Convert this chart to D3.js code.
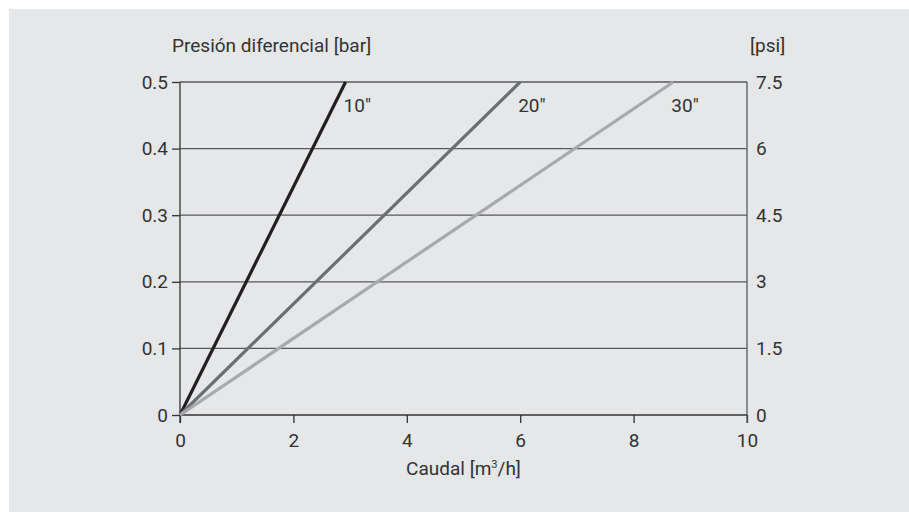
<!DOCTYPE html>
<html><head><meta charset="utf-8">
<script src="https://cdn.jsdelivr.net/npm/d3@7"></script>
<style>body{margin:0;background:#fff}svg{display:block}text{font-family:Roboto,sans-serif;fill:#333}</style>
</head><body><svg id="c" width="909" height="512"></svg>
<script>
const xTicks = [0, 2, 4, 6, 8, 10];
const barTicks = [0, 0.1, 0.2, 0.3, 0.4, 0.5];
const psiTicks = ["0", "1.5", "3", "4.5", "6", "7.5"];
const seriesNames = ['10"', '20"', '30"'];
const seriesFlowAtMax = [2.92, 6.0, 8.7]; // flow [m3/h] at 0.5 bar
const seriesColors = ["#231f20", "#6d6e71", "#a7a9ac"];

const FS = 19;
const FF = "Roboto,sans-serif";
const svg = d3.select("#c");
svg.append("rect").attr("x", 9).attr("y", 9).attr("width", 900).attr("height", 503).attr("fill", "#e6e7e8");

const x = d3.scaleLinear().domain([0, 10]).range([180, 747]);
const y = d3.scaleLinear().domain([0, 0.5]).range([415, 82]);

// gridlines
svg.append("g").selectAll("line").data(barTicks.slice(1)).join("line")
  .attr("x1", x(0)).attr("x2", x(10)).attr("y1", d => y(d)).attr("y2", d => y(d))
  .attr("stroke", "#58595b").attr("stroke-width", 1.3);

// left axis
const gl = svg.append("g").attr("transform", `translate(${x(0)},0)`)
  .call(d3.axisLeft(y).tickValues(barTicks).tickFormat(d3.format("")).tickSize(8).tickPadding(4));
// right axis
const gr = svg.append("g").attr("transform", `translate(${x(10)},0)`)
  .call(d3.axisRight(y).tickValues(barTicks).tickFormat((d, i) => psiTicks[i]).tickSize(0).tickPadding(9));
// bottom axis
const gb = svg.append("g").attr("transform", `translate(0,${y(0)})`)
  .call(d3.axisBottom(x).tickValues(xTicks).tickSize(8).tickPadding(11));

[gl, gr, gb].forEach(g => {
  g.select(".domain").remove();
  g.selectAll("text").attr("font-size", FS).attr("font-family", FF).attr("fill", "#333");
  g.selectAll(".tick line").attr("stroke", "#333").attr("stroke-width", 1.3);
});
// axis lines
svg.append("line").attr("x1", x(0)).attr("x2", x(0)).attr("y1", y(0.5)).attr("y2", y(0) + 8).attr("stroke", "#333").attr("stroke-width", 1.3);
svg.append("line").attr("x1", x(10)).attr("x2", x(10)).attr("y1", y(0.5)).attr("y2", y(0) + 8).attr("stroke", "#58595b").attr("stroke-width", 1.3);
svg.append("line").attr("x1", x(0)).attr("x2", x(10)).attr("y1", y(0)).attr("y2", y(0)).attr("stroke", "#333").attr("stroke-width", 1.3);

// series lines
const line = d3.line().x(d => x(d[0])).y(d => y(d[1]));
seriesFlowAtMax.forEach((f, i) => {
  svg.append("path").attr("d", line([[0, 0], [f, 0.5]])).attr("fill", "none")
    .attr("stroke", seriesColors[i]).attr("stroke-width", 3.2);
  svg.append("text").attr("x", x(f) - 2).attr("y", 112).attr("font-size", FS).text(seriesNames[i]);
});

// titles
svg.append("text").attr("x", 172).attr("y", 52).attr("font-size", FS).text("Presión diferencial [bar]");
svg.append("text").attr("x", 750).attr("y", 52).attr("font-size", FS).text("[psi]");
const cap = svg.append("text").attr("x", (x(0) + x(10)) / 2).attr("y", 475).attr("font-size", FS).attr("text-anchor", "middle");
cap.append("tspan").text("Caudal [m");
cap.append("tspan").attr("font-size", 11).attr("dy", -7).text("3");
cap.append("tspan").attr("dy", 7).text("/h]");
</script></body></html>
